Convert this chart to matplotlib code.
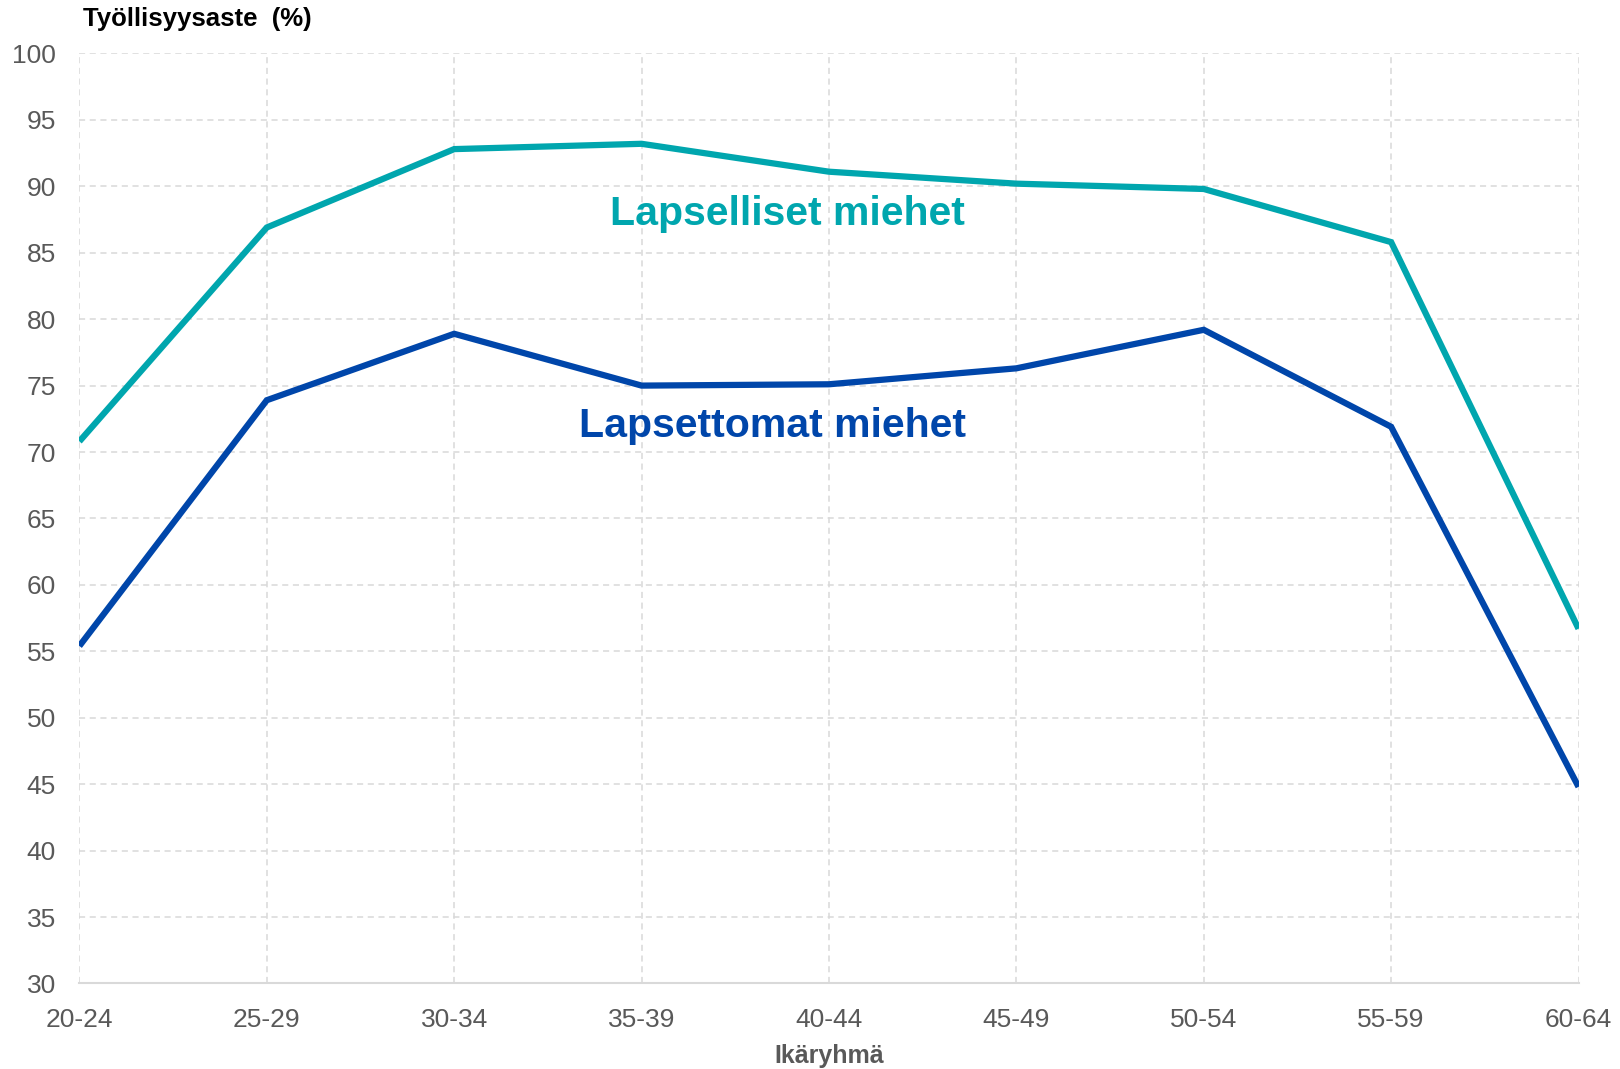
import matplotlib.pyplot as plt

plt.rcParams['font.family'] = ['Liberation Sans', 'DejaVu Sans']

age_groups = ['20-24', '25-29', '30-34', '35-39', '40-44', '45-49', '50-54', '55-59', '60-64']
with_children = [70.8, 86.9, 92.8, 93.2, 91.1, 90.2, 89.8, 85.8, 56.7]
childless = [55.4, 73.9, 78.9, 75.0, 75.1, 76.3, 79.2, 71.9, 44.8]

teal = '#00A6AE'
blue = '#0046AA'
grey = '#595959'

fig = plt.figure(figsize=(16.2, 10.69), dpi=100)
ax = fig.add_axes([0.049, 0.080, 0.9254, 0.870])

x = range(len(age_groups))
ax.plot(x, with_children, color=teal, lw=4.5, solid_capstyle='butt', solid_joinstyle='miter', zorder=3)
ax.plot(x, childless, color=blue, lw=4.5, solid_capstyle='butt', solid_joinstyle='miter', zorder=3)

ax.set_xlim(0, len(age_groups) - 1)
ax.set_ylim(30, 100)
ax.set_xticks(list(x))
ax.set_xticklabels(age_groups)
ax.set_yticks(range(30, 101, 5))

ax.grid(True, color='#D9D9D9', linestyle=(0, (4, 3)), linewidth=1.1, zorder=0)
ax.set_axisbelow(True)
for side in ['top', 'right', 'left']:
    ax.spines[side].set_visible(False)
ax.spines['bottom'].set_color('#D9D9D9')
ax.spines['bottom'].set_linewidth(1.5)

ax.tick_params(axis='both', length=0, labelsize=19, labelcolor=grey)
ax.tick_params(axis='x', pad=18)
ax.tick_params(axis='y', pad=17)

ax.text(3.78, 87.9, 'Lapselliset miehet', color=teal, fontsize=29.5, fontweight='bold',
        ha='center', va='center')
ax.text(3.70, 71.95, 'Lapsettomat miehet', color=blue, fontsize=29.5, fontweight='bold',
        ha='center', va='center')

fig.text(0.051, 0.982, 'Työllisyysaste  (%)', fontsize=18.5, fontweight='bold',
         color='black', ha='left', va='center')
ax.set_xlabel('Ikäryhmä', fontsize=18, fontweight='bold', color=grey, labelpad=8)

fig.savefig('out.png', dpi=100)
